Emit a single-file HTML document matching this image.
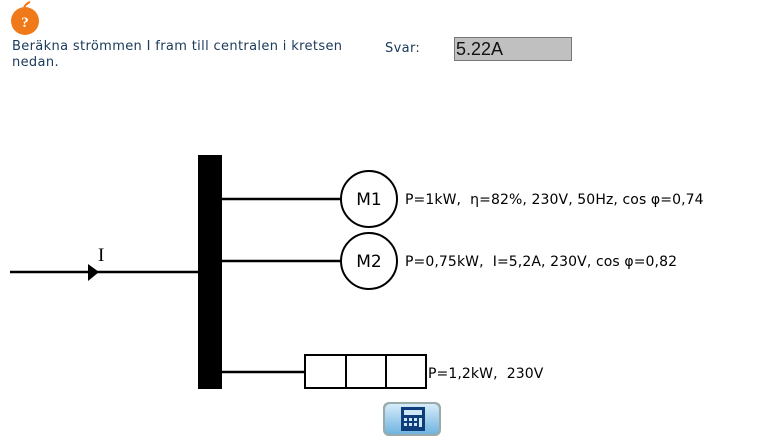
<!DOCTYPE html>
<html><head><meta charset="utf-8"><style>
body{margin:0;width:770px;height:447px;background:#fff;position:relative;overflow:hidden;font-family:"DejaVu Sans","Liberation Sans",sans-serif;}
.t{position:absolute;color:#1a3a5a;font-size:13px;letter-spacing:0.35px;}
svg text{white-space:pre;}
</style></head><body>
<svg width="770" height="447" style="position:absolute;left:0;top:0">
  <circle cx="25" cy="21" r="14" fill="#f07a1a"/>
  <path d="M24 7 q3 -4 6 -5" stroke="#f07a1a" stroke-width="2" fill="none"/>
  <text x="25" y="27" font-size="15" font-weight="bold" fill="#fff" text-anchor="middle" font-family="Liberation Serif,serif">?</text>
  <rect x="198" y="155" width="24" height="234" fill="#000"/>
  <line x1="10" y1="272" x2="198" y2="272" stroke="#000" stroke-width="2.5"/>
  <polygon points="88,264 99,272 88,281" fill="#000"/>
  <text x="98" y="261" font-size="19" font-family="Liberation Serif,serif">I</text>
  <line x1="222" y1="199" x2="341" y2="199" stroke="#000" stroke-width="2.5"/>
  <line x1="222" y1="261" x2="341" y2="261" stroke="#000" stroke-width="2.5"/>
  <line x1="222" y1="372" x2="305" y2="372" stroke="#000" stroke-width="2.5"/>
  <circle cx="369" cy="199" r="28" fill="#fff" stroke="#000" stroke-width="2"/>
  <circle cx="369" cy="261" r="28" fill="#fff" stroke="#000" stroke-width="2"/>
  <text x="369" y="205" font-size="17" text-anchor="middle" font-family="DejaVu Sans,sans-serif">M1</text>
  <text x="369" y="267" font-size="17" text-anchor="middle" font-family="DejaVu Sans,sans-serif">M2</text>
  <rect x="305" y="355" width="121" height="33" fill="#fff" stroke="#000" stroke-width="2"/>
  <line x1="346" y1="355" x2="346" y2="388" stroke="#000" stroke-width="2"/>
  <line x1="386" y1="355" x2="386" y2="388" stroke="#000" stroke-width="2"/>
  <text x="405" y="204" font-size="14" letter-spacing="0.1" font-family="DejaVu Sans,sans-serif">P=1kW,  η=82%, 230V, 50Hz, cos φ=0,74</text>
  <text x="405" y="266" font-size="14" letter-spacing="0.1" font-family="DejaVu Sans,sans-serif">P=0,75kW,  I=5,2A, 230V, cos φ=0,82</text>
  <text x="428" y="378" font-size="14" letter-spacing="0.1" font-family="DejaVu Sans,sans-serif">P=1,2kW,  230V</text>
  <defs><linearGradient id="g" x1="0" y1="0" x2="0" y2="1"><stop offset="0" stop-color="#d6ecfa"/><stop offset="1" stop-color="#6fb3e0"/></linearGradient></defs>
  <rect x="383" y="402" width="58" height="34" rx="6" fill="#9aa" />
  <rect x="385" y="404" width="54" height="30" rx="5" fill="url(#g)"/>
  <rect x="401" y="407" width="24" height="24" fill="#0d3d7a"/>
  <rect x="404" y="410" width="18" height="5" fill="#cfe6f7"/>
  <g fill="#cfe6f7">
    <rect x="404" y="418" width="3" height="3"/><rect x="409" y="418" width="3" height="3"/><rect x="414" y="418" width="3" height="3"/>
    <rect x="404" y="423" width="3" height="3"/><rect x="409" y="423" width="3" height="3"/><rect x="414" y="423" width="3" height="3"/>
    <rect x="419" y="418" width="3" height="9"/>
  </g>
</svg>
<div class="t" style="left:12px;top:39px;line-height:16px;width:345px">Beräkna strömmen I fram till centralen i kretsen nedan.</div>
<div class="t" style="left:385px;top:41px">Svar:</div>
<div style="position:absolute;left:454px;top:37px;width:115px;height:22px;background:#c0c0c0;border:1px solid #777;font-family:'Liberation Sans',sans-serif;font-size:18px;line-height:22px;padding-left:1px;color:#111">5.22A</div>
</body></html>
